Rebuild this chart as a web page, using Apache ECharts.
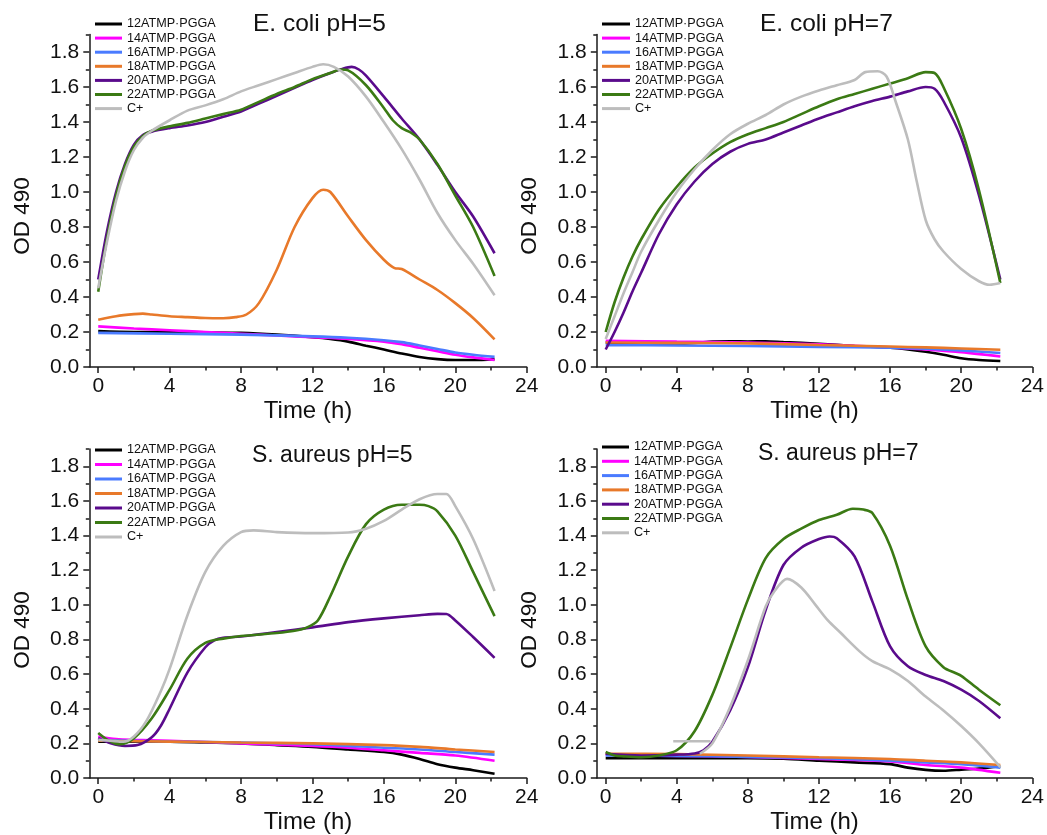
<!DOCTYPE html>
<html>
<head>
<meta charset="utf-8">
<script src="https://cdn.jsdelivr.net/npm/echarts@6/dist/echarts.min.js"></script>
<style>
  html, body { margin: 0; padding: 0; background: #ffffff; }
  #chart { width: 1047px; height: 835px; }
</style>
</head>
<body>
<div id="chart"></div>
<script>
// ---- series labels, colours, ticks ----
const seriesNames = ['12ATMP·PGGA', '14ATMP·PGGA', '16ATMP·PGGA', '18ATMP·PGGA', '20ATMP·PGGA', '22ATMP·PGGA', 'C+'];
const lineColors = ['#000000', '#ff00ff', '#4a7bff', '#e8792a', '#5a0b8c', '#3b7a14', '#bdbdbd'];
const panelTitles = ['E. coli pH=5', 'E. coli pH=7', 'S. aureus pH=5', 'S. aureus pH=7'];
const xMajorTicks = [0, 4, 8, 12, 16, 20, 24];
const xMinorTicks = [2, 6, 10, 14, 18, 22];
const yMajorTicks = [0, 0.2, 0.4, 0.6, 0.8, 1.0, 1.2, 1.4, 1.6, 1.8];
const yMinorTicks = [0.1, 0.3, 0.5, 0.7, 0.9, 1.1, 1.3, 1.5, 1.7, 1.9];

// ---- E. coli pH=5 : [time (h), OD 490] ----
const ecoli5_12 = [[0,0.205],[2,0.20],[4,0.20],[6,0.198],[8,0.195],[10,0.185],[12,0.17],[13,0.16],[14,0.145],[15,0.122],[16,0.10],[17,0.077],[18,0.057],[19,0.045],[20,0.04],[21,0.04],[22.2,0.045]];
const ecoli5_14 = [[0,0.232],[2,0.22],[4,0.21],[6,0.20],[8,0.19],[10,0.18],[12,0.17],[14,0.16],[16,0.145],[17,0.13],[18,0.11],[19,0.09],[20,0.07],[21,0.055],[22.2,0.04]];
const ecoli5_16 = [[0,0.195],[4,0.19],[8,0.185],[12,0.175],[14,0.167],[16,0.153],[17,0.142],[18,0.123],[19,0.103],[20,0.083],[21,0.07],[22.2,0.058]];
const ecoli5_18 = [[0,0.27],[1,0.29],[2,0.302],[2.5,0.305],[3,0.30],[4,0.29],[5,0.285],[6,0.28],[7,0.279],[7.7,0.285],[8.3,0.30],[9,0.365],[10,0.556],[11,0.80],[12,0.965],[12.6,1.013],[13,1.00],[14,0.86],[15,0.725],[16,0.613],[16.6,0.565],[17,0.56],[18,0.50],[19,0.44],[20,0.365],[21,0.28],[22.2,0.158]];
const ecoli5_20 = [[0,0.50],[0.5,0.78],[1,1.00],[1.5,1.16],[2,1.27],[2.5,1.325],[3,1.345],[4,1.365],[5,1.38],[6,1.40],[7,1.43],[8,1.46],[9,1.505],[10,1.55],[11,1.595],[12,1.64],[13,1.68],[13.7,1.705],[14.2,1.715],[14.6,1.70],[15,1.665],[16,1.545],[17,1.42],[18,1.30],[19,1.155],[20,1.0],[21,0.86],[22.2,0.65]];
const ecoli5_22 = [[0,0.43],[0.5,0.74],[1,0.98],[1.5,1.15],[2,1.26],[2.5,1.32],[3,1.35],[4,1.375],[5,1.395],[6,1.42],[7,1.445],[8,1.47],[9,1.515],[10,1.56],[11,1.60],[12,1.645],[13,1.68],[13.6,1.70],[14,1.695],[15,1.61],[16,1.48],[16.5,1.41],[17,1.365],[17.5,1.34],[18,1.30],[19,1.16],[20,0.98],[21,0.80],[22.2,0.52]];
const ecoli5_C = [[0,0.45],[0.5,0.72],[1,0.95],[1.5,1.12],[2,1.24],[2.5,1.31],[3,1.35],[4,1.41],[5,1.465],[6,1.495],[7,1.53],[8,1.575],[9,1.61],[10,1.645],[11,1.68],[12,1.715],[12.6,1.73],[13.2,1.715],[14,1.66],[15,1.545],[16,1.40],[17,1.245],[18,1.07],[19,0.88],[20,0.725],[21,0.59],[22.2,0.41]];

// ---- E. coli pH=7 ----
const ecoli7_12 = [[0,0.14],[2,0.135],[4,0.135],[5,0.138],[6,0.145],[7,0.147],[8,0.146],[9,0.147],[10,0.142],[12,0.133],[14,0.12],[16,0.11],[17,0.10],[18,0.087],[19,0.07],[20,0.05],[21,0.04],[22.2,0.034]];
const ecoli7_14 = [[0,0.15],[4,0.145],[8,0.14],[12,0.13],[16,0.112],[18,0.10],[20,0.085],[22.2,0.06]];
const ecoli7_16 = [[0,0.125],[4,0.123],[8,0.12],[12,0.115],[16,0.11],[18,0.105],[20,0.095],[22.2,0.08]];
const ecoli7_18 = [[0,0.14],[4,0.138],[8,0.135],[12,0.126],[16,0.117],[18,0.112],[20,0.106],[22.2,0.099]];
const ecoli7_20 = [[0,0.10],[0.5,0.20],[1,0.31],[1.5,0.43],[2,0.54],[3,0.76],[4,0.93],[5,1.06],[6,1.16],[7,1.23],[8,1.275],[9,1.30],[10,1.34],[11,1.38],[12,1.42],[13,1.455],[14,1.49],[15,1.52],[16,1.545],[17,1.575],[18,1.60],[18.5,1.59],[19,1.52],[20,1.31],[21,0.98],[22.2,0.50]];
const ecoli7_22 = [[0,0.20],[0.5,0.37],[1,0.51],[1.5,0.63],[2,0.73],[3,0.90],[4,1.03],[5,1.14],[6,1.22],[7,1.285],[8,1.33],[9,1.365],[10,1.40],[11,1.445],[12,1.49],[13,1.53],[14,1.56],[15,1.59],[16,1.62],[17,1.65],[18,1.685],[18.5,1.68],[19,1.60],[20,1.36],[21,1.01],[22.2,0.48]];
const ecoli7_C = [[0,0.16],[0.5,0.29],[1,0.42],[1.5,0.54],[2,0.66],[3,0.84],[4,1.00],[5,1.13],[6,1.24],[7,1.33],[8,1.39],[9,1.44],[10,1.50],[11,1.545],[12,1.58],[13,1.61],[14,1.64],[14.6,1.685],[15.3,1.69],[15.8,1.66],[16.3,1.52],[17,1.30],[17.5,1.06],[18,0.84],[18.5,0.73],[19,0.66],[20,0.56],[21,0.49],[21.6,0.47],[22.2,0.48]];

// ---- S. aureus pH=5 ----
const saureus5_12 = [[0,0.21],[2,0.21],[4,0.21],[6,0.205],[8,0.20],[10,0.19],[12,0.18],[14,0.165],[16,0.15],[17,0.135],[18,0.11],[19,0.08],[20,0.06],[21,0.045],[22.2,0.025]];
const saureus5_14 = [[0,0.24],[1,0.225],[2,0.22],[4,0.215],[8,0.20],[12,0.185],[14,0.175],[16,0.16],[18,0.145],[20,0.13],[22.2,0.10]];
const saureus5_16 = [[0,0.22],[4,0.21],[8,0.205],[12,0.195],[16,0.175],[18,0.165],[20,0.15],[22.2,0.135]];
const saureus5_18 = [[0,0.215],[4,0.21],[8,0.205],[12,0.20],[16,0.19],[18,0.18],[20,0.165],[22.2,0.15]];
const saureus5_20 = [[0,0.23],[0.7,0.20],[1.5,0.185],[2.2,0.19],[3,0.235],[3.5,0.30],[4,0.40],[5,0.61],[6,0.755],[6.5,0.795],[7,0.81],[8,0.817],[10,0.843],[12,0.87],[14,0.90],[16,0.922],[18,0.94],[19,0.948],[19.5,0.947],[20,0.91],[21,0.814],[22.2,0.694]];
const saureus5_22 = [[0,0.26],[0.6,0.215],[1.2,0.195],[2,0.23],[3,0.345],[4,0.51],[5,0.69],[6,0.78],[7,0.805],[8,0.82],[10,0.837],[11,0.85],[11.7,0.87],[12.3,0.91],[13,1.05],[14,1.28],[15,1.466],[16,1.55],[17,1.578],[18,1.578],[18.5,1.57],[19,1.54],[20,1.40],[21,1.19],[22.2,0.935]];
const saureus5_C = [[0,0.22],[0.7,0.215],[1.4,0.21],[2,0.24],[2.7,0.33],[3.5,0.50],[4,0.63],[5,0.94],[6,1.19],[7,1.34],[8,1.42],[8.7,1.43],[10,1.42],[12,1.414],[14,1.418],[15,1.44],[16,1.485],[17,1.55],[18,1.61],[19,1.64],[19.5,1.64],[20,1.57],[21,1.38],[22.2,1.08]];

// ---- S. aureus pH=7 ----
const saureus7_12 = [[0,0.115],[4,0.115],[8,0.115],[10,0.112],[12,0.10],[14,0.09],[16,0.08],[17,0.06],[18,0.047],[19,0.042],[20,0.048],[21,0.055],[22.2,0.068]];
const saureus7_14 = [[0,0.135],[2,0.13],[4,0.128],[8,0.122],[12,0.11],[16,0.095],[18,0.075],[20,0.06],[22.2,0.03]];
const saureus7_16 = [[0,0.13],[4,0.128],[8,0.122],[12,0.115],[16,0.10],[18,0.09],[20,0.08],[22.2,0.06]];
const saureus7_18 = [[0,0.14],[4,0.138],[8,0.13],[12,0.12],[16,0.11],[18,0.10],[20,0.09],[22.2,0.075]];
const saureus7_20 = [[0,0.14],[2,0.13],[4,0.135],[5,0.142],[5.5,0.16],[6,0.21],[7,0.39],[8,0.64],[9,0.97],[10,1.23],[11,1.33],[12,1.38],[12.6,1.395],[13,1.385],[14,1.28],[15,1.02],[16,0.76],[17,0.645],[18,0.595],[19,0.56],[20,0.51],[21,0.445],[22.2,0.345]];
const saureus7_22 = [[0,0.15],[0.5,0.13],[1,0.125],[2,0.12],[3,0.13],[4,0.16],[5,0.27],[6,0.48],[7,0.75],[8,1.03],[9,1.27],[10,1.38],[11,1.44],[12,1.49],[13,1.52],[13.9,1.555],[14.5,1.55],[15,1.53],[16,1.34],[17,1.03],[18,0.76],[19,0.64],[19.7,0.605],[20,0.59],[21,0.51],[22.2,0.42]];
// C+ here has a short separate piece around 4-6 h, drawn after a gap (null)
const saureus7_C = [[5.3,0.14],[6,0.20],[7,0.41],[8,0.68],[9,0.99],[9.5,1.08],[10.2,1.15],[11,1.10],[11.8,1.00],[12.5,0.91],[13.2,0.84],[14.3,0.73],[15,0.675],[16,0.627],[17,0.56],[18,0.47],[19,0.39],[20,0.30],[21,0.20],[22.2,0.063],[22.2,null],[3.8,0.212],[5.9,0.212]];

const panelData = [
  [ecoli5_12, ecoli5_14, ecoli5_16, ecoli5_18, ecoli5_20, ecoli5_22, ecoli5_C],
  [ecoli7_12, ecoli7_14, ecoli7_16, ecoli7_18, ecoli7_20, ecoli7_22, ecoli7_C],
  [saureus5_12, saureus5_14, saureus5_16, saureus5_18, saureus5_20, saureus5_22, saureus5_C],
  [saureus7_12, saureus7_14, saureus7_16, saureus7_18, saureus7_20, saureus7_22, saureus7_C]
];

// ---- layout ----
const FONT = "'Liberation Sans', Arial, Helvetica, sans-serif";
const INK = '#111111';
const grids = [
  { left: 89.3,  top: 34.5, width: 437.4, height: 332.5 },
  { left: 596.8, top: 34.5, width: 436.5, height: 332.5 },
  { left: 89.3,  top: 449,  width: 437.4, height: 332 },
  { left: 596.8, top: 449,  width: 436.5, height: 332 }
];
const legendPos = [
  { left: 95,  top: 17,  itemWidth: 27, itemGap: 0.1 },
  { left: 602, top: 17,  itemWidth: 28, itemGap: 0.1 },
  { left: 95,  top: 443, itemWidth: 27, itemGap: 0.5 },
  { left: 602, top: 440, itemWidth: 27, itemGap: 0.3 }
];
const titlePos = [
  { x: 253, y: 24.5, size: 24.5 },
  { x: 760, y: 24.5, size: 24.5 },
  { x: 252, y: 456,  size: 23 },
  { x: 758, y: 454,  size: 23 }
];

const axisLineStyle = { color: '#1a1a1a', width: 1.5 };
const xAxes = [], yAxes = [];
grids.forEach((g, i) => {
  xAxes.push({
    type: 'value', gridIndex: i, position: 'bottom', min: -0.5, max: 24,
    axisLine: { show: true, onZero: false, lineStyle: axisLineStyle },
    axisTick: { show: true, length: 6, customValues: xMajorTicks, lineStyle: axisLineStyle },
    axisLabel: { customValues: xMajorTicks, fontSize: 21, color: INK, fontFamily: FONT, margin: 9 },
    splitLine: { show: false },
    name: 'Time (h)', nameLocation: 'middle', nameGap: 32,
    nameTextStyle: { fontSize: 24, color: INK, fontFamily: FONT }
  });
  yAxes.push({
    type: 'value', gridIndex: i, position: 'left', min: 0, max: 1.9,
    axisLine: { show: true, onZero: false, lineStyle: axisLineStyle },
    axisTick: { show: true, length: 6, customValues: yMajorTicks, lineStyle: axisLineStyle },
    axisLabel: { customValues: yMajorTicks, formatter: v => v.toFixed(1), fontSize: 21, color: INK, fontFamily: FONT, margin: 10 },
    splitLine: { show: false }
  });
});
// companion axes carrying the minor ticks
grids.forEach((g, i) => {
  xAxes.push({
    type: 'value', gridIndex: i, position: 'bottom', min: -0.5, max: 24,
    axisLine: { show: false, onZero: false },
    axisTick: { show: true, length: 3.5, customValues: xMinorTicks, lineStyle: axisLineStyle },
    axisLabel: { show: false }, splitLine: { show: false }
  });
  yAxes.push({
    type: 'value', gridIndex: i, position: 'left', min: 0, max: 1.9,
    axisLine: { show: false, onZero: false },
    axisTick: { show: true, length: 3.5, customValues: yMinorTicks, lineStyle: axisLineStyle },
    axisLabel: { show: false }, splitLine: { show: false }
  });
});

const series = [];
panelData.forEach((curves, p) => {
  curves.forEach((pts, k) => {
    series.push({
      type: 'line', name: seriesNames[k], xAxisIndex: p, yAxisIndex: p,
      data: pts, showSymbol: false, symbol: 'none', smooth: 0.3, connectNulls: false,
      color: lineColors[k],
      lineStyle: { width: 2.6, color: lineColors[k] },
      emphasis: { disabled: true }
    });
  });
});

const legends = legendPos.map(l => ({
  orient: 'vertical', left: l.left, top: l.top, padding: 0,
  itemWidth: l.itemWidth, itemHeight: 3, itemGap: l.itemGap, icon: 'rect',
  selectedMode: false, data: seriesNames,
  textStyle: { fontSize: 12.6, lineHeight: 14, color: INK, fontFamily: FONT }
}));

const graphics = [];
titlePos.forEach((t, i) => {
  graphics.push({
    type: 'text', x: t.x, y: t.y,
    style: { text: panelTitles[i], fontSize: t.size, fontFamily: FONT, fill: INK, align: 'left', verticalAlign: 'middle' }
  });
});
// rotated y-axis titles
[[22.5, 216], [530, 216], [22.5, 630], [530, 630]].forEach(([x, y]) => {
  graphics.push({
    type: 'text', x: x, y: y, rotation: Math.PI / 2,
    style: { text: 'OD 490', fontSize: 22.5, fontFamily: FONT, fill: INK, align: 'center', verticalAlign: 'middle' }
  });
});

const chart = echarts.init(document.getElementById('chart'), null, { renderer: 'canvas' });
chart.setOption({
  animation: false,
  backgroundColor: '#ffffff',
  grid: grids,
  xAxis: xAxes,
  yAxis: yAxes,
  legend: legends,
  series: series,
  graphic: graphics
});
</script>
</body>
</html>
